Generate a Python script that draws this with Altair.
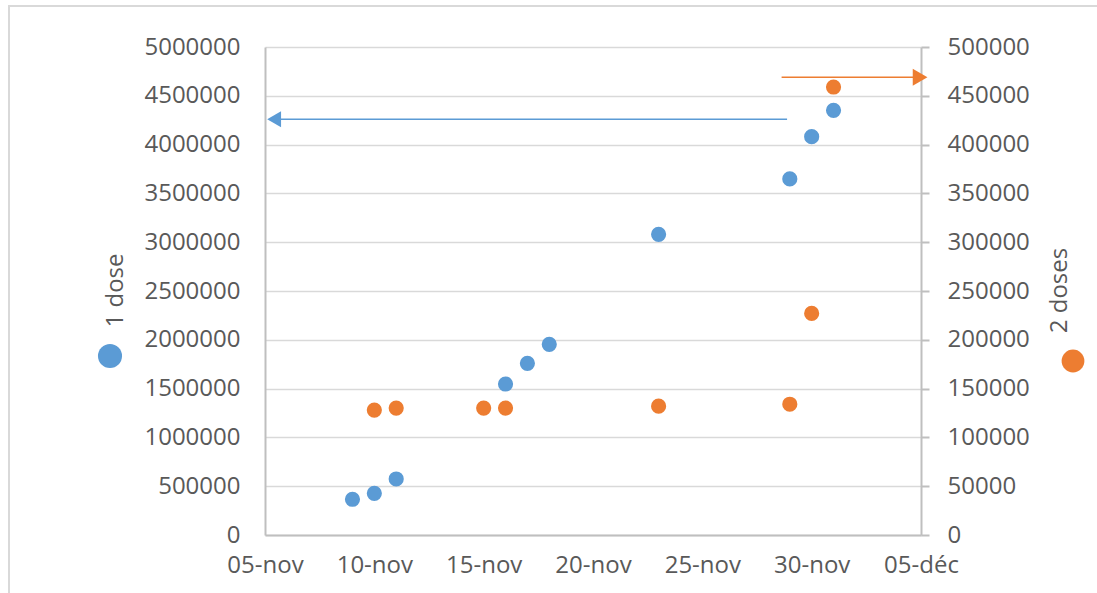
import altair as alt
import pandas as pd

# ---- data ----
dates_1dose = ["2021-11-09", "2021-11-10", "2021-11-11", "2021-11-16", "2021-11-17",
               "2021-11-18", "2021-11-23", "2021-11-29", "2021-11-30", "2021-12-01"]
values_1dose = [366000, 427000, 574000, 1547000, 1759000, 1954000, 3081000, 3648000, 4081000, 4351000]

dates_2doses = ["2021-11-10", "2021-11-11", "2021-11-15", "2021-11-16", "2021-11-23",
                "2021-11-29", "2021-11-30", "2021-12-01"]
values_2doses = [128000, 130000, 130000, 130000, 132000, 134000, 227000, 459000]

# annotation arrows (start, head, level)
arrow1_start = "2021-11-28T21:00:00Z"
arrow1_head = "2021-11-05T10:00:00Z"
arrow1_level = 4259000
arrow2_start = "2021-11-28T15:00:00Z"
arrow2_head = "2021-12-04T23:00:00Z"
arrow2_level = 469000

tick_days = [(11, 5), (11, 10), (11, 15), (11, 20), (11, 25), (11, 30), (12, 5)]

BLUE = "#5b9bd5"
ORANGE = "#ed7d31"
TXT = "#595959"
FONT = "Open Sans"

df1 = pd.DataFrame({"date": [d + "T00:00:00Z" for d in dates_1dose], "v": values_1dose})
df2 = pd.DataFrame({"date": [d + "T00:00:00Z" for d in dates_2doses], "v": values_2doses})
arr1 = pd.DataFrame({"date": [arrow1_start], "date2": [arrow1_head], "v": [arrow1_level]})
arr1h = pd.DataFrame({"date": [arrow1_head], "v": [arrow1_level]})
arr2 = pd.DataFrame({"date": [arrow2_start], "date2": [arrow2_head], "v": [arrow2_level]})
arr2h = pd.DataFrame({"date": [arrow2_head], "v": [arrow2_level]})
one = pd.DataFrame({"k": [0]})

x_scale = alt.Scale(type="utc",
                    domain=[alt.DateTime(year=2021, month=11, date=5, utc=True),
                            alt.DateTime(year=2021, month=12, date=5, utc=True)])
x_axis = alt.Axis(
    title=None,
    values=[alt.DateTime(year=2021, month=m, date=d, utc=True) for m, d in tick_days],
    labelExpr="utcFormat(datum.value, '%d') + '-' + (utcmonth(datum.value) == 10 ? 'nov' : 'déc')",
    grid=False, ticks=False, domainColor="#bfbfbf", domainWidth=2,
    labelFont=FONT, labelFontSize=24, labelColor=TXT, labelPadding=18,
    labelFlush=False, labelOverlap=False,
)
X = alt.X("date:T", scale=x_scale, axis=x_axis)

left_scale = alt.Scale(domain=[0, 5000000])
left_axis = alt.Axis(
    title="1 dose", values=list(range(0, 5000001, 500000)), format="d",
    grid=True, gridColor="#d9d9d9", gridWidth=1.5,
    domainColor="#bfbfbf", domainWidth=2, ticks=False,
    labelFont=FONT, labelFontSize=24, labelColor=TXT, labelPadding=25,
    titleFont=FONT, titleFontSize=24, titleColor=TXT, titleFontWeight="normal",
    titleAngle=270, titleX=-150, titleY=243, titleAlign="center", titleBaseline="middle",
)
right_scale = alt.Scale(domain=[0, 500000])
right_axis = alt.Axis(
    title="2 doses", orient="right", values=list(range(0, 500001, 50000)), format="d",
    grid=False, domainColor="#bfbfbf", domainWidth=2,
    ticks=True, tickSize=8, tickColor="#bfbfbf", tickWidth=2,
    labelFont=FONT, labelFontSize=24, labelColor=TXT, labelPadding=18,
    titleFont=FONT, titleFontSize=24, titleColor=TXT, titleFontWeight="normal",
    titleAngle=270, titleX=138, titleY=243, titleAlign="center", titleBaseline="middle",
)
YL = alt.Y("v:Q", scale=left_scale, axis=left_axis)
YR = alt.Y("v:Q", scale=right_scale, axis=right_axis)

blue_pts = alt.Chart(df1).mark_circle(color=BLUE, opacity=1, size=230).encode(x=X, y=YL)
blue_rule = alt.Chart(arr1).mark_rule(color=BLUE, strokeWidth=1.5).encode(x=X, x2="date2:T", y=YL)
blue_head = alt.Chart(arr1h).mark_point(shape="triangle-left", filled=True, color=BLUE,
                                        opacity=1, size=256).encode(x=X, y=YL)
blue_leg = alt.Chart(one).mark_circle(color=BLUE, opacity=1, size=580).encode(
    x=alt.value(-155), y=alt.value(309))

orange_pts = alt.Chart(df2).mark_circle(color=ORANGE, opacity=1, size=230).encode(x=X, y=YR)
orange_rule = alt.Chart(arr2).mark_rule(color=ORANGE, strokeWidth=1.5).encode(x=X, x2="date2:T", y=YR)
orange_head = alt.Chart(arr2h).mark_point(shape="triangle-right", filled=True, color=ORANGE,
                                          opacity=1, size=289).encode(x=X, y=YR)
orange_leg = alt.Chart(one).mark_circle(color=ORANGE, opacity=1, size=520).encode(
    x=alt.value(808), y=alt.value(314))

frame = alt.Chart(one).mark_rect(fill=None, stroke="#d9d9d9", strokeWidth=2).encode(
    x=alt.value(-256), x2=alt.value(840), y=alt.value(-41), y2=alt.value(560))

left_layer = alt.layer(blue_rule, blue_head, blue_pts, blue_leg)
right_layer = alt.layer(orange_rule, orange_head, orange_pts, orange_leg)

chart = alt.layer(frame, left_layer, right_layer).resolve_scale(y="independent").properties(
    width=656, height=488,
    autosize=alt.AutoSizeParams(type="none"),
    padding={"left": 265, "top": 47, "right": 176, "bottom": 58},
    background="white",
).configure_view(strokeWidth=0)

chart.save("out.html", embed_options={"renderer": "svg", "actions": False})
